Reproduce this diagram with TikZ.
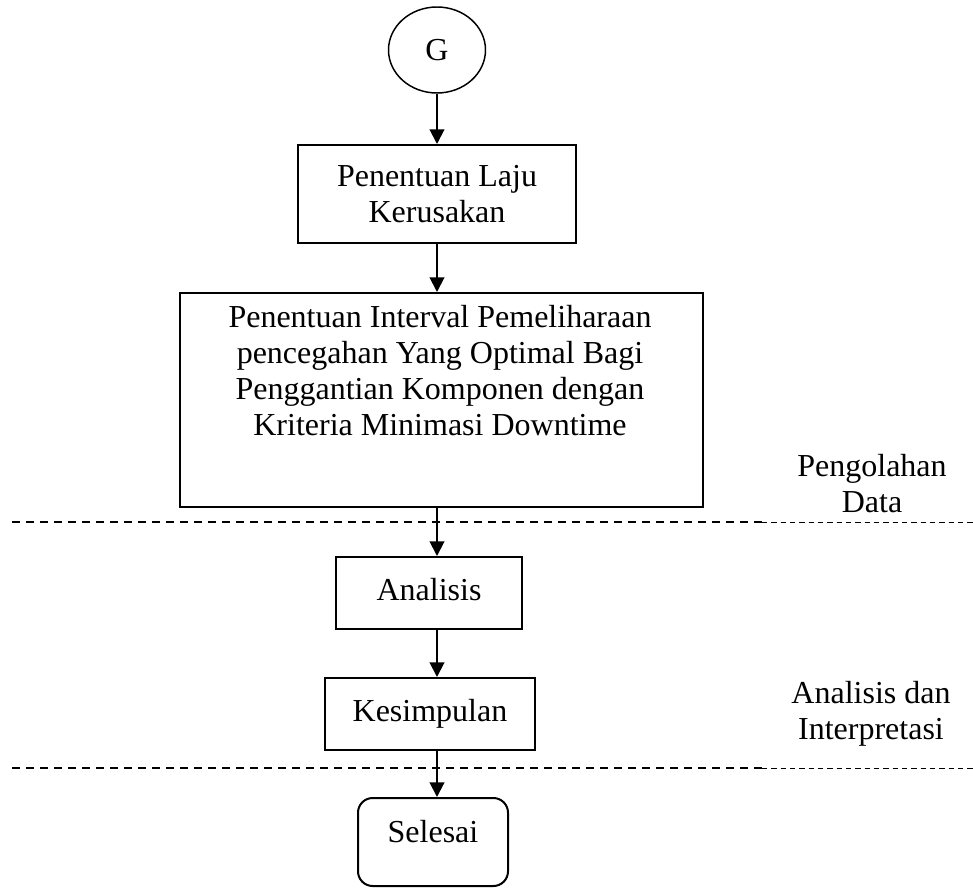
\documentclass[tikz,border=0pt]{standalone}
\usepackage{fontspec}
\setmainfont{Liberation Serif}
\usetikzlibrary{shapes.geometric,arrows.meta}
\newcommand\fz{\fontsize{24}{27}\selectfont}
\begin{document}
\begin{tikzpicture}[x=0.75pt,y=-0.75pt,
  box/.style={draw, line width=1.5pt, rectangle, inner sep=0pt, font=\fz, align=center},
  arr/.style={-{Triangle[width=11pt,length=11pt]}, line width=1.5pt},
  thickdash/.style={line width=1.5pt, dash pattern=on 6pt off 4.5pt},
  thindash/.style={line width=0.75pt, dash pattern=on 4pt off 3pt},
  lbl/.style={font=\fz, align=center, anchor=north, inner sep=0pt}]
\useasboundingbox (0,0) rectangle (973,888);

% dashed section lines
\coordinate (d1s) at (12,522);
\coordinate (d1m) at (762,522);
\coordinate (d1e) at (973,522);
\coordinate (d2s) at (12,768);
\coordinate (d2m) at (762,768);
\coordinate (d2e) at (973,768);
\draw[thickdash] (d1s) -- (d1m);
\draw[thindash] (d1m) -- (d1e);
\draw[thickdash] (d2s) -- (d2m);
\draw[thindash] (d2m) -- (d2e);

% nodes
\node[ellipse, draw, line width=1.1pt, minimum width=72.75pt, minimum height=64.5pt, inner sep=0pt, font=\fz] (G) at (437,50) {G};
\node[box, minimum width=208.5pt, minimum height=73.5pt] (b1) at (437,194) {Penentuan Laju\\Kerusakan};
\node[box, minimum width=392.25pt, minimum height=160.5pt] (b2) at (441.5,400) {};
\node[lbl] (b2t) at (440,305) {Penentuan Interval Pemeliharaan\\pencegahan Yang Optimal Bagi\\Penggantian Komponen dengan\\Kriteria Minimasi Downtime};
\node[box, minimum width=139.5pt, minimum height=54pt, text height=16.4pt, text depth=5.2pt] (b3) at (429,593) {Analisis};
\node[box, minimum width=157.5pt, minimum height=54pt, text height=16.4pt, text depth=5.2pt] (b4) at (430,714) {Kesimpulan};
\node[box, rounded corners=11pt, minimum width=112.5pt, minimum height=66pt, text height=16.4pt, text depth=16.4pt] (b5) at (433,842) {Selesai};

% side labels
\node[lbl] (L1) at (872,454) {Pengolahan\\Data};
\node[lbl] (L2) at (871,681) {Analisis dan\\Interpretasi};

% connectors
\draw[arr] (G.south) -- (b1.north);
\draw[arr] (b1.south) -- (b2.north -| b1.south);
\draw[arr] (b2.south -| G.south) -- (b3.north -| G.south);
\draw[arr] (b3.south -| G.south) -- (b4.north -| G.south);
\draw[arr] (b4.south -| G.south) -- (b5.north -| G.south);
\end{tikzpicture}
\end{document}
